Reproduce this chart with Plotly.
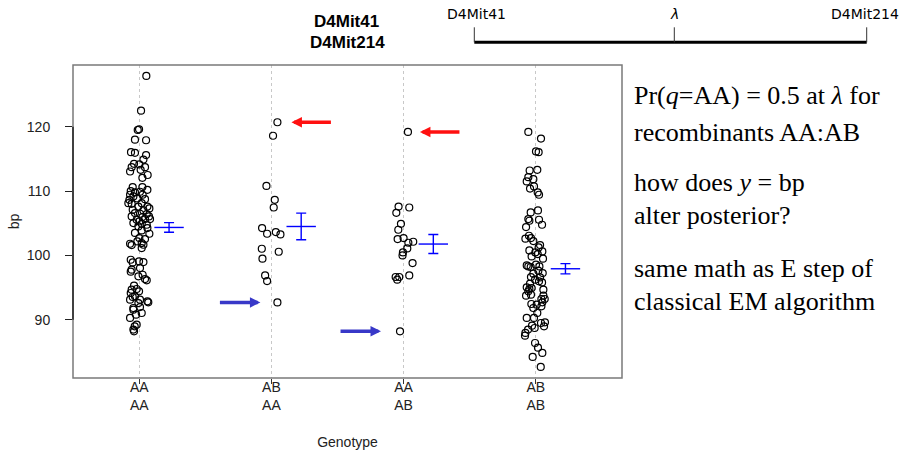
import plotly.graph_objects as go

# ---------------- data ----------------
genotypes = ["AA<br>AA", "AB<br>AA", "AA<br>AB", "AB<br>AB"]

# jitter (category units) and bp values for each genotype group
aa_aa_jit = [0.053, 0.013, -0.012, -0.002, -0.033, 0.051, -0.063, -0.033, 0.051, 0.031,
             -0.040, 0.0, -0.058, 0.043, -0.070, 0.010, 0.063, 0.023, -0.050, 0.023,
             0.061, -0.065, -0.033, 0.005, -0.070, 0.025, -0.045, -0.075, -0.015, 0.043,
             -0.058, 0.018, -0.083, -0.007, 0.061, -0.050, 0.031, 0.076, -0.033, 0.005,
             0.056, -0.058, 0.023, 0.073, -0.020, 0.043, 0.0, 0.081, -0.045, 0.018,
             0.056, -0.007, 0.061, -0.033, 0.018, 0.076, 0.0, 0.043, -0.015, 0.018,
             -0.070, -0.058, 0.031, 0.018, -0.065, -0.050, -0.002, 0.031, -0.058, -0.065,
             0.005, 0.025, -0.007, 0.043, 0.056, -0.040, -0.058, -0.020, -0.002, -0.065,
             -0.050, -0.033, 0.005, 0.061, 0.068, -0.070, -0.007, -0.045, 0.005, -0.045,
             0.018, -0.025, -0.070, -0.020, -0.035, -0.045, -0.040]
aa_aa_bp = [127.9, 122.5, 119.5, 119.6, 118.0, 117.9, 116.05, 115.95, 115.6, 114.9,
            114.24, 114.14, 113.72, 113.72, 113.05, 113.3, 112.5, 112.07, 110.62, 110.62,
            110.2, 110.0, 109.8, 109.9, 109.43, 109.43, 109.17, 108.65, 108.86, 108.75,
            108.03, 108.13, 108.13, 107.6, 107.6, 107.1, 107.0, 107.3, 106.58, 106.48,
            106.43, 106.06, 105.96, 106.06, 105.55, 105.65, 105.29, 105.65, 105.03, 104.92,
            104.77, 104.51, 104.25, 103.5, 103.89, 103.37, 102.7, 102.54, 102.18, 101.92,
            101.82, 101.61, 101.66, 101.15, 99.33, 98.92, 99.08, 98.97, 97.78, 97.47,
            98.04, 97.0, 96.75, 96.33, 96.13, 95.3, 94.68, 94.78, 94.42, 94.16,
            93.54, 93.64, 93.12, 92.86, 92.71, 93.12, 92.6, 91.83, 91.98, 91.57,
            91.05, 90.8, 90.28, 89.24, 88.98, 88.47, 88.2]

ab_aa_jit = [0.045, 0.012, -0.038, 0.025, 0.017, -0.071, -0.033, 0.033, 0.068, -0.073,
             0.055, -0.068, -0.048, -0.033, 0.045]
ab_aa_bp = [120.7, 118.6, 110.8, 108.65, 107.45, 104.25, 103.37, 103.63, 103.26, 101.04,
            100.57, 99.49, 96.9, 96.02, 92.7]

aa_ab_jit = [0.033, -0.038, 0.043, -0.055, -0.020, -0.040, -0.045, 0.0, 0.073, 0.036,
             0.028, -0.005, -0.008, 0.068, 0.043, -0.060, -0.033, -0.048, -0.027]
aa_ab_bp = [119.2, 107.6, 107.45, 106.63, 104.92, 103.99, 102.54, 102.7, 102.13, 101.97,
            101.09, 100.47, 100.0, 98.82, 96.9, 96.65, 96.65, 96.23, 88.2]

ab_ab_jit = [-0.056, 0.040, 0.002, 0.022, -0.046, 0.012, -0.056, -0.068, -0.018, -0.043,
             -0.013, 0.015, 0.025, -0.038, 0.017, -0.056, -0.048, 0.025, 0.048, -0.073,
             -0.078, -0.051, -0.036, -0.018, 0.033, 0.022, -0.048, 0.050, -0.003, 0.015,
             -0.031, 0.055, -0.068, -0.056, -0.038, 0.002, 0.028, 0.020, -0.018, 0.053,
             -0.036, 0.033, -0.005, 0.025, 0.048, -0.043, -0.068, -0.048, -0.031, -0.056,
             0.058, -0.073, -0.036, 0.058, 0.043, 0.068, -0.033, 0.007, 0.043, 0.050,
             -0.018, 0.012, -0.068, -0.013, 0.040, 0.070, -0.028, -0.008, 0.063, -0.058,
             -0.078, -0.081, -0.005, 0.017, 0.050, -0.023, 0.038]
ab_ab_bp = [119.2, 118.17, 116.16, 116.05, 113.2, 113.31, 112.17, 111.5, 111.86, 110.4,
            110.72, 109.79, 109.43, 106.68, 106.99, 105.65, 105.39, 105.55, 104.77, 104.41,
            102.6, 103.06, 102.7, 102.23, 101.61, 101.25, 100.78, 100.63, 100.47, 100.21,
            99.85, 99.49, 98.45, 98.3, 98.2, 98.56, 98.3, 97.63, 97.16, 97.26,
            96.64, 96.59, 96.23, 95.97, 95.81, 95.61, 95.04, 94.78, 94.93, 94.42,
            94.68, 93.74, 93.9, 93.74, 93.23, 93.23, 92.45, 92.35, 92.09, 92.71,
            91.83, 91.05, 90.28, 90.28, 89.5, 89.6, 89.09, 88.72, 88.98, 88.47,
            87.95, 87.53, 86.39, 85.67, 84.84, 84.22, 82.67]

group_means = [104.35, 104.5, 101.77, 97.93]
group_se = [0.75, 2.07, 1.48, 0.8]
mean_shift = 0.225

ytick_vals = [90, 100, 110, 120]

# ---------------- layout geometry ----------------
W, H = 907, 452
ML, MR, MT, MB = 73, 285, 65, 74
PW, PH = W - ML - MR, H - MT - MB


def pxx(px):
    return (px - ML) / PW


def pxy(py):
    return (H - MB - py) / PH


fig = go.Figure()

groups = [(aa_aa_jit, aa_aa_bp), (ab_aa_jit, ab_aa_bp), (aa_ab_jit, aa_ab_bp), (ab_ab_jit, ab_ab_bp)]
for i, (jit, bp) in enumerate(groups):
    fig.add_trace(go.Scatter(
        x=[i + 1 + j for j in jit], y=bp, mode="markers",
        marker=dict(symbol="circle-open", size=7, color="black", line=dict(width=1.2, color="black")),
        showlegend=False, hoverinfo="skip"))

fig.add_trace(go.Scatter(
    x=[i + 1 + mean_shift for i in range(4)], y=group_means, mode="markers",
    marker=dict(symbol="line-ew", size=21, color="blue", line=dict(width=1.4, color="blue")),
    error_y=dict(type="data", array=group_se, visible=True, color="blue", thickness=1.4, width=5),
    showlegend=False, hoverinfo="skip"))

shapes = [
    # grey plot box
    dict(type="rect", xref="paper", yref="paper", x0=0, x1=1, y0=0, y1=1,
         line=dict(color="#7a7a7a", width=1.5), layer="above"),
    # black y axis line spanning the ticks
    dict(type="line", xref="paper", yref="y", x0=0, x1=0, y0=ytick_vals[0], y1=ytick_vals[-1],
         line=dict(color="#222", width=1.5), layer="above"),
    # genetic map
    dict(type="line", xref="paper", yref="paper", x0=pxx(474.3), x1=pxx(866.7), y0=pxy(42.3), y1=pxy(42.3),
         line=dict(color="black", width=3)),
]
for mx in [474.3, 674.3, 866.7]:
    shapes.append(dict(type="line", xref="paper", yref="paper", x0=pxx(mx), x1=pxx(mx),
                       y0=pxy(27.3), y1=pxy(42.3), line=dict(color="#333", width=1)))

ann = []
# arrows pointing at the recombinant points
arrow_specs = [
    (2 + ab_aa_jit[0], ab_aa_bp[0], 55, 14, "#ff1010"),
    (3 + aa_ab_jit[0], aa_ab_bp[0], 53, 12, "#ff1010"),
    (2 + ab_aa_jit[-1], ab_aa_bp[-1], -59, 17, "#3838c8"),
    (3 + aa_ab_jit[-1], aa_ab_bp[-1], -61, 19, "#3838c8"),
]
for x, y, ax, so, col in arrow_specs:
    ann.append(dict(x=x, y=y, xref="x", yref="y", ax=ax, ay=0, text="", showarrow=True,
                    arrowhead=2, arrowsize=0.6, arrowwidth=3.5, arrowcolor=col, standoff=so))


def label(px, py, text, font, xanchor="center", yanchor="middle"):
    return dict(x=pxx(px), y=pxy(py), xref="paper", yref="paper", text=text, showarrow=False,
                xanchor=xanchor, yanchor=yanchor, font=font, borderpad=0)


# bold marker title (two lines stacked tightly)
boldfont = dict(family="Liberation Sans, Arial", size=17, color="black")
ann.append(label(346.7, 32, "<b>D4Mit41</b>", boldfont, yanchor="bottom"))
ann.append(label(347, 32, "<b>D4Mit214</b>", boldfont, yanchor="top"))

# map labels
mapfont = dict(family="DejaVu Sans", size=14, color="black")
ann.append(label(476.7, 14, "D4Mit41", mapfont))
ann.append(label(674.3, 14, "<i>λ</i>", mapfont))
ann.append(label(865, 14, "D4Mit214", mapfont))

# right-side explanatory text
serif = dict(family="Liberation Serif, Times New Roman", size=26, color="black")
lines = [
    ("Pr(<i>q</i>=AA) = 0.5 at <i>λ</i> for", 96),
    ("recombinants AA:AB", 132),
    ("how does <i>y</i> = bp", 182),
    ("alter posterior?", 215),
    ("same math as E step of", 268.3),
    ("classical EM algorithm", 301.7),
]
for t, yy in lines:
    ann.append(label(633, yy, t, serif, xanchor="left"))

fig.update_layout(
    width=W, height=H,
    margin=dict(l=ML, r=MR, t=MT, b=MB, pad=0, autoexpand=False),
    paper_bgcolor="white", plot_bgcolor="white",
    font=dict(family="Liberation Sans, Arial", size=13, color="#222"),
    shapes=shapes, annotations=ann,
    xaxis=dict(range=[0.498, 4.653], tickvals=[1, 2, 3, 4], ticktext=genotypes,
               showgrid=True, gridcolor="#c8c8c8", griddash="dot", gridwidth=1,
               zeroline=False, showline=False, ticks="outside", ticklen=5, tickcolor="#333",
               ticklabelstandoff=-9, tickfont=dict(size=14), automargin=False,
               title=dict(text="Genotype", font=dict(size=14), standoff=25)),
    yaxis=dict(range=[80.95, 129.6], tickvals=ytick_vals, showgrid=False, zeroline=False,
               showline=False, ticks="outside", ticklen=7, tickcolor="#222",
               ticklabelstandoff=12, tickfont=dict(size=14), automargin=False,
               title=dict(text="bp", font=dict(size=14), standoff=3)),
)

fig.write_html("out.html")
